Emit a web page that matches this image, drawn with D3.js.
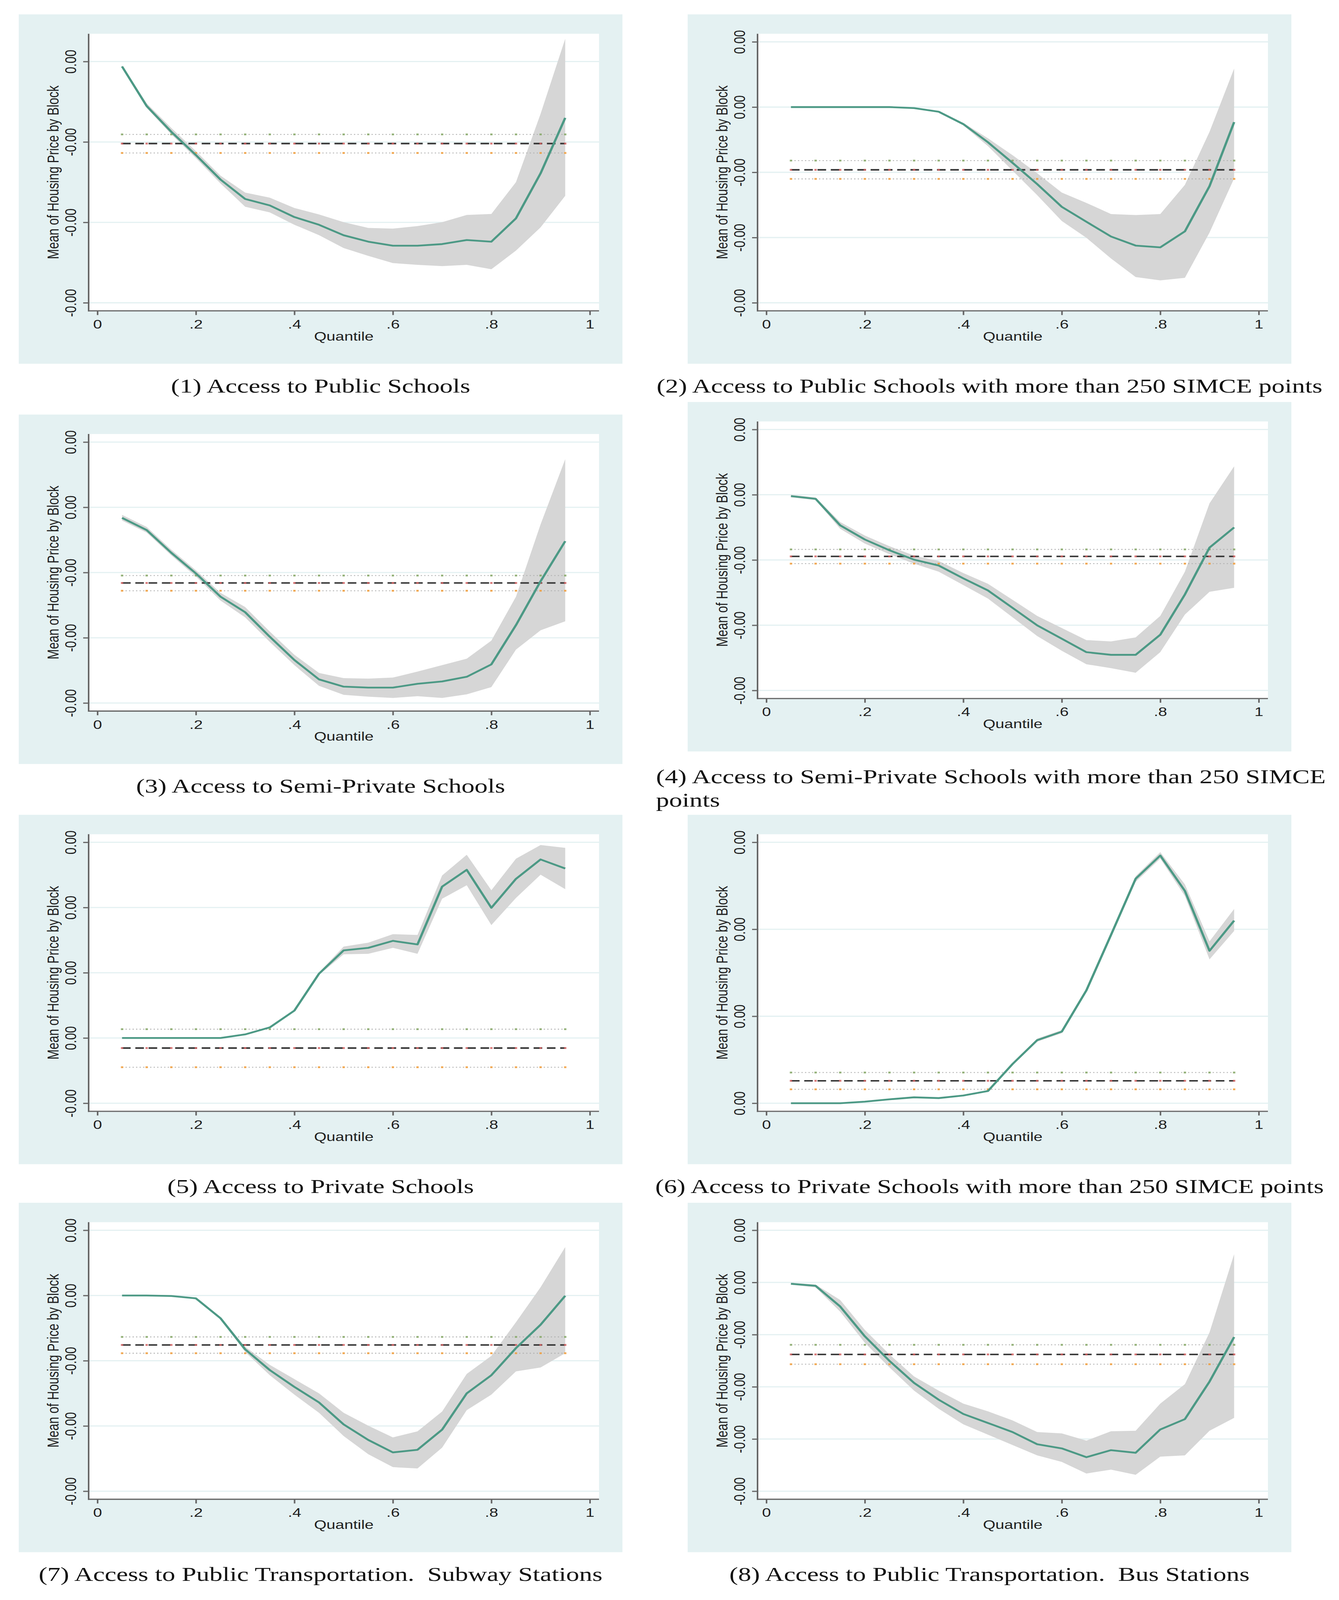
<!DOCTYPE html>
<html>
<head>
<meta charset="utf-8">
<script src="https://cdn.jsdelivr.net/npm/d3@7"></script>
<style>
  html, body { margin: 0; padding: 0; background: #ffffff; overflow: hidden; }
  svg text { white-space: pre; }
</style>
</head>
<body>
<div id="chart"></div>
<script>
// quantiles on the x axis (same for all eight panels)
var quantiles = [0.05, 0.10, 0.15, 0.20, 0.25, 0.30, 0.35, 0.40, 0.45, 0.50,
                 0.55, 0.60, 0.65, 0.70, 0.75, 0.80, 0.85, 0.90, 0.95];
var xTicks = [0, 0.2, 0.4, 0.6, 0.8, 1];
var xTickLabels = ["0", ".2", ".4", ".6", ".8", "1"];

// values are in thousandths (labels on the original are all "0.00" / "-0.00")
// ref = [mean, upper, lower] of the horizontal reference lines

// (1) public schools
var p1Est = [-0.061, -0.553, -0.874, -1.163, -1.468, -1.709, -1.789, -1.934, -2.03, -2.16, -2.24, -2.29, -2.29, -2.27, -2.22, -2.24, -1.95, -1.39, -0.70];
var p1Hi = [-0.045, -0.520, -0.826, -1.115, -1.420, -1.629, -1.693, -1.821, -1.902, -1.998, -2.069, -2.078, -2.046, -1.998, -1.908, -1.895, -1.500, -0.649, 0.283];
var p1Lo = [-0.077, -0.578, -0.906, -1.201, -1.516, -1.805, -1.876, -2.030, -2.159, -2.319, -2.416, -2.506, -2.528, -2.544, -2.528, -2.583, -2.351, -2.062, -1.670];
var p1Ref = [-1.02, -0.906, -1.137];
var p1Ticks = [0, -1, -2, -3];
var p1TickLabels = ["0.00", "-0.00", "-0.00", "-0.00"];
var p1Domain = [-3, 0.245];

// (2) public schools > 250 SIMCE
var p2Est = [0, 0, 0, 0, 0, -0.016, -0.071, -0.261, -0.539, -0.855, -1.180, -1.529, -1.758, -1.984, -2.123, -2.150, -1.905, -1.212, -0.230];
var p2Hi = [0.008, 0.008, 0.008, 0.008, 0.008, -0.008, -0.063, -0.242, -0.479, -0.737, -1.014, -1.311, -1.469, -1.640, -1.655, -1.640, -1.192, -0.380, 0.590];
var p2Lo = [-0.008, -0.008, -0.008, -0.008, -0.008, -0.024, -0.079, -0.281, -0.598, -0.974, -1.350, -1.747, -2.004, -2.321, -2.606, -2.657, -2.618, -1.925, -1.093];
var p2Ref = [-0.962, -0.820, -1.101];
var p2Ticks = [1, 0, -1, -2, -3];
var p2TickLabels = ["0.00", "0.00", "-0.00", "-0.00", "-0.00"];
var p2Domain = [-3, 1];

// (3) semi-private schools
var p3Est = [-0.162, -0.349, -0.697, -1.014, -1.370, -1.608, -1.984, -2.341, -2.638, -2.749, -2.764, -2.764, -2.705, -2.669, -2.598, -2.408, -1.806, -1.133, -0.519];
var p3Hi = [-0.115, -0.301, -0.650, -0.966, -1.311, -1.529, -1.905, -2.261, -2.539, -2.618, -2.626, -2.610, -2.519, -2.420, -2.321, -2.044, -1.370, -0.261, 0.737];
var p3Lo = [-0.202, -0.388, -0.737, -1.061, -1.430, -1.687, -2.063, -2.420, -2.737, -2.875, -2.903, -2.923, -2.895, -2.923, -2.867, -2.756, -2.182, -1.885, -1.747];
var p3Ref = [-1.160, -1.046, -1.279];
var p3Ticks = [1, 0, -1, -2, -3];
var p3TickLabels = ["0.00", "0.00", "-0.00", "-0.00", "-0.00"];
var p3Domain = [-3, 1];

// (4) semi-private schools > 250 SIMCE
var p4Est = [-0.021, -0.062, -0.469, -0.686, -0.851, -0.995, -1.085, -1.282, -1.467, -1.734, -2.002, -2.207, -2.413, -2.454, -2.454, -2.146, -1.529, -0.810, -0.501];
var p4Hi = [0, -0.041, -0.419, -0.625, -0.789, -0.933, -1.015, -1.200, -1.365, -1.611, -1.858, -2.043, -2.228, -2.248, -2.187, -1.858, -1.180, -0.132, 0.436];
var p4Lo = [-0.041, -0.082, -0.522, -0.748, -0.912, -1.056, -1.180, -1.385, -1.591, -1.878, -2.166, -2.392, -2.598, -2.659, -2.729, -2.413, -1.837, -1.488, -1.426];
var p4Ref = [-0.945, -0.838, -1.056];
var p4Ticks = [1, 0, -1, -2, -3];
var p4TickLabels = ["0.00", "0.00", "-0.00", "-0.00", "-0.00"];
var p4Domain = [-3, 1];

// (5) private schools
var p5Est = [0, 0, 0, 0, 0, 0.055, 0.162, 0.420, 0.986, 1.343, 1.382, 1.489, 1.434, 2.321, 2.578, 1.996, 2.440, 2.737, 2.598];
var p5Hi = [0.004, 0.004, 0.004, 0.004, 0.004, 0.067, 0.174, 0.432, 1.006, 1.402, 1.461, 1.592, 1.580, 2.491, 2.808, 2.265, 2.749, 2.958, 2.915];
var p5Lo = [-0.004, -0.004, -0.004, -0.004, -0.004, 0.044, 0.150, 0.404, 0.966, 1.283, 1.291, 1.382, 1.291, 2.135, 2.341, 1.731, 2.147, 2.503, 2.281];
var p5Ref = [-0.154, 0.135, -0.448];
var p5Ticks = [3, 2, 1, 0, -1];
var p5TickLabels = ["0.00", "0.00", "0.00", "0.00", "-0.00"];
var p5Domain = [-1, 3];

// (6) private schools > 250 SIMCE
var p6Est = [0, 0, 0, 0.018, 0.045, 0.068, 0.059, 0.089, 0.140, 0.451, 0.725, 0.823, 1.298, 1.936, 2.581, 2.848, 2.441, 1.752, 2.100];
var p6Hi = [0.006, 0.006, 0.006, 0.024, 0.050, 0.074, 0.065, 0.095, 0.149, 0.466, 0.743, 0.841, 1.313, 1.957, 2.611, 2.887, 2.516, 1.862, 2.233];
var p6Lo = [-0.006, -0.006, -0.006, 0.012, 0.039, 0.062, 0.053, 0.083, 0.131, 0.437, 0.707, 0.805, 1.280, 1.916, 2.545, 2.813, 2.382, 1.654, 1.981];
var p6Ref = [0.258, 0.353, 0.160];
var p6Ticks = [3, 2, 1, 0];
var p6TickLabels = ["0.00", "0.00", "0.00", "0.00"];
var p6Domain = [0, 3];

// (7) subway stations
var p7Est = [0, 0, -0.008, -0.044, -0.349, -0.825, -1.143, -1.401, -1.639, -1.976, -2.214, -2.405, -2.365, -2.056, -1.500, -1.222, -0.806, -0.448, -0.004];
var p7Hi = [0.008, 0.008, 0, -0.032, -0.329, -0.786, -1.063, -1.282, -1.500, -1.798, -1.996, -2.175, -2.083, -1.778, -1.202, -0.925, -0.409, 0.127, 0.742];
var p7Lo = [-0.008, -0.008, -0.016, -0.056, -0.369, -0.865, -1.222, -1.520, -1.798, -2.155, -2.433, -2.631, -2.651, -2.333, -1.758, -1.520, -1.163, -1.103, -0.885];
var p7Ref = [-0.758, -0.635, -0.885];
var p7Ticks = [1, 0, -1, -2, -3];
var p7TickLabels = ["0.00", "0.00", "-0.00", "-0.00", "-0.00"];
var p7Domain = [-3, 1];

// (8) bus stations
var p8Est = [-0.025, -0.064, -0.461, -1.032, -1.503, -1.925, -2.247, -2.520, -2.693, -2.867, -3.100, -3.180, -3.348, -3.214, -3.264, -2.817, -2.619, -1.900, -1.047];
var p8Hi = [-0.005, -0.040, -0.337, -0.908, -1.379, -1.801, -2.073, -2.321, -2.470, -2.644, -2.867, -2.892, -3.031, -2.852, -2.842, -2.321, -1.949, -0.957, 0.541];
var p8Lo = [-0.045, -0.094, -0.561, -1.156, -1.627, -2.073, -2.421, -2.718, -2.917, -3.115, -3.313, -3.438, -3.661, -3.586, -3.685, -3.338, -3.313, -2.842, -2.594];
var p8Ref = [-1.379, -1.195, -1.567];
var p8Ticks = [1, 0, -1, -2, -3, -4];
var p8TickLabels = ["0.00", "0.00", "-0.00", "-0.00", "-0.00", "-0.00"];
var p8Domain = [-4, 1];

var captions = [
    ["(1) Access to Public Schools"],
    ["(2) Access to Public Schools with more than 250 SIMCE points"],
    ["(3) Access to Semi-Private Schools"],
    ["(4) Access to Semi-Private Schools with more than 250 SIMCE", "points"],
    ["(5) Access to Private Schools"],
    ["(6) Access to Private Schools with more than 250 SIMCE points"],
    ["(7) Access to Public Transportation.  Subway Stations"],
    ["(8) Access to Public Transportation.  Bus Stations"]
];

function main() {

    // drawing coordinates follow the 3429 x 5353 reference; the svg is
    // stretched to whatever the window really is so nothing is cut off
    var totalW = 3429, totalH = 5353;

    // panel size and inner plot region (Stata-like layout)
    var pw = 1546, ph = 1169;
    var plot = { left: 179, right: 1486, top: 65, bottom: 992 };

    // panel origins
    var origins = [[48, 48], [1761, 48], [48, 1387], [1761, 1345],
                   [48, 2726], [1761, 2726], [48, 4024], [1761, 4024]];

    // fixed widths for the long captions (they are squeezed in the original)
    var captionWidths = [null, 1705, null, 1715, null, 1712, null, null];

    var panels = [
        { est: p1Est, hi: p1Hi, lo: p1Lo, ref: p1Ref, ticks: p1Ticks, labels: p1TickLabels, domain: p1Domain },
        { est: p2Est, hi: p2Hi, lo: p2Lo, ref: p2Ref, ticks: p2Ticks, labels: p2TickLabels, domain: p2Domain },
        { est: p3Est, hi: p3Hi, lo: p3Lo, ref: p3Ref, ticks: p3Ticks, labels: p3TickLabels, domain: p3Domain },
        { est: p4Est, hi: p4Hi, lo: p4Lo, ref: p4Ref, ticks: p4Ticks, labels: p4TickLabels, domain: p4Domain },
        { est: p5Est, hi: p5Hi, lo: p5Lo, ref: p5Ref, ticks: p5Ticks, labels: p5TickLabels, domain: p5Domain },
        { est: p6Est, hi: p6Hi, lo: p6Lo, ref: p6Ref, ticks: p6Ticks, labels: p6TickLabels, domain: p6Domain },
        { est: p7Est, hi: p7Hi, lo: p7Lo, ref: p7Ref, ticks: p7Ticks, labels: p7TickLabels, domain: p7Domain },
        { est: p8Est, hi: p8Hi, lo: p8Lo, ref: p8Ref, ticks: p8Ticks, labels: p8TickLabels, domain: p8Domain }
    ];

    var svg = d3.select("#chart")
        .append("svg")
        .attr("width", window.innerWidth || totalW)
        .attr("height", window.innerHeight || totalH)
        .attr("viewBox", "0 0 " + totalW + " " + totalH)
        .attr("preserveAspectRatio", "none")
        .style("display", "block");

    svg.append("rect").attr("width", totalW).attr("height", totalH).attr("fill", "#ffffff");

    var sans = "'Liberation Sans', Arial, Helvetica, sans-serif";
    var serif = "'Liberation Serif', 'Times New Roman', serif";

    var x = d3.scaleLinear().domain([0, 1]).range([201.5, 1462.5]);

    panels.forEach(function (p, i) {
        var g = svg.append("g")
            .attr("transform", "translate(" + origins[i][0] + "," + origins[i][1] + ")");

        var y = d3.scaleLinear().domain(p.domain).range([965, 92]);

        // graph region and plot region
        g.append("rect").attr("width", pw).attr("height", ph).attr("fill", "#e4f1f2");
        g.append("rect")
            .attr("x", plot.left).attr("y", plot.top)
            .attr("width", plot.right - plot.left).attr("height", plot.bottom - plot.top)
            .attr("fill", "#ffffff");

        // grid lines
        g.append("g").selectAll("line")
            .data(p.ticks)
            .enter()
            .append("line")
            .attr("x1", plot.left).attr("x2", plot.right)
            .attr("y1", function (d) { return y(d); })
            .attr("y2", function (d) { return y(d); })
            .attr("stroke", "#e4f1f2")
            .attr("stroke-width", 4);

        var rows = quantiles.map(function (q, k) {
            return { q: q, est: p.est[k], hi: p.hi[k], lo: p.lo[k] };
        });

        // confidence band
        g.append("path")
            .datum(rows)
            .attr("fill", "#d6d6d6")
            .attr("d", d3.area()
                .x(function (d) { return x(d.q); })
                .y0(function (d) { return y(d.lo); })
                .y1(function (d) { return y(d.hi); }));

        // reference lines: upper and lower dotted, mean dashed
        var refs = [
            { v: p.ref[1], dash: "3,6", color: "#b0b0b0", width: 3, mark: "#86a866" },
            { v: p.ref[2], dash: "3,6", color: "#b0b0b0", width: 3, mark: "#f29e3a" },
            { v: p.ref[0], dash: "22,12", color: "#333333", width: 5, mark: "#d05f5f" }
        ];
        refs.forEach(function (r) {
            g.append("line")
                .attr("x1", x(quantiles[0])).attr("x2", x(quantiles[quantiles.length - 1]))
                .attr("y1", y(r.v)).attr("y2", y(r.v))
                .attr("stroke", r.color)
                .attr("stroke-width", r.width)
                .attr("stroke-dasharray", r.dash);
            g.append("g").selectAll("rect")
                .data(quantiles)
                .enter()
                .append("rect")
                .attr("x", function (d) { return x(d) - 3; })
                .attr("y", y(r.v) - 3)
                .attr("width", 6)
                .attr("height", 6)
                .attr("fill", r.mark)
                .attr("opacity", 0.85);
        });

        // estimate line
        g.append("path")
            .datum(rows)
            .attr("fill", "none")
            .attr("stroke", "#4c9985")
            .attr("stroke-width", 6)
            .attr("stroke-linejoin", "round")
            .attr("d", d3.line()
                .x(function (d) { return x(d.q); })
                .y(function (d) { return y(d.est); }));

        // y axis
        var yAxis = g.append("g")
            .attr("transform", "translate(" + plot.left + ",0)")
            .call(d3.axisLeft(y)
                .tickValues(p.ticks)
                .tickFormat(function (d, k) { return p.labels[k]; })
                .tickSize(14)
                .tickSizeOuter(0));
        yAxis.select(".domain").remove();
        yAxis.selectAll("line").attr("stroke", "#666666").attr("stroke-width", 4);
        yAxis.selectAll("text")
            .attr("transform", "rotate(-90)")
            .attr("x", 0)
            .attr("y", -32)
            .attr("dy", null)
            .attr("text-anchor", "middle")
            .attr("fill", "#1e1e1e")
            .style("font-family", sans)
            .style("font-size", "41px");

        // x axis
        var xAxis = g.append("g")
            .attr("transform", "translate(0," + plot.bottom + ")")
            .call(d3.axisBottom(x)
                .tickValues(xTicks)
                .tickFormat(function (d, k) { return xTickLabels[k]; })
                .tickSize(14)
                .tickSizeOuter(0));
        xAxis.select(".domain").remove();
        xAxis.selectAll("line").attr("stroke", "#666666").attr("stroke-width", 4);
        xAxis.selectAll("text")
            .attr("y", 59)
            .attr("dy", null)
            .attr("fill", "#1e1e1e")
            .style("font-family", sans)
            .style("font-size", "41px");

        // axis lines
        g.append("line")
            .attr("x1", plot.left).attr("x2", plot.left)
            .attr("y1", plot.top).attr("y2", plot.bottom + 2)
            .attr("stroke", "#666666").attr("stroke-width", 4);
        g.append("line")
            .attr("x1", plot.left - 2).attr("x2", plot.right)
            .attr("y1", plot.bottom).attr("y2", plot.bottom)
            .attr("stroke", "#666666").attr("stroke-width", 4);

        // axis titles
        g.append("text")
            .attr("transform", "translate(102," + ((plot.top + plot.bottom) / 2) + ") rotate(-90)")
            .attr("text-anchor", "middle")
            .attr("fill", "#1e1e1e")
            .style("font-family", sans)
            .style("font-size", "41px")
            .text("Mean of Housing Price by Block");

        g.append("text")
            .attr("x", (plot.left + plot.right) / 2)
            .attr("y", 1091)
            .attr("text-anchor", "middle")
            .attr("fill", "#1e1e1e")
            .style("font-family", sans)
            .style("font-size", "41px")
            .text("Quantile");

        // caption
        var cap = captions[i];
        if (cap.length === 1) {
            var t = g.append("text")
                .attr("x", pw / 2)
                .attr("y", ph + 96)
                .attr("text-anchor", "middle")
                .attr("fill", "#111")
                .style("font-family", serif)
                .style("font-size", "67px")
                .text(cap[0]);
            if (captionWidths[i]) {
                t.attr("textLength", captionWidths[i]).attr("lengthAdjust", "spacingAndGlyphs");
            }
        } else {
            g.append("text")
                .attr("x", 1680 - origins[i][0])
                .attr("y", ph + 106)
                .attr("textLength", captionWidths[i])
                .attr("lengthAdjust", "spacing")
                .attr("fill", "#111")
                .style("font-family", serif)
                .style("font-size", "67px")
                .text(cap[0]);
            g.append("text")
                .attr("x", 1680 - origins[i][0])
                .attr("y", ph + 185)
                .attr("fill", "#111")
                .style("font-family", serif)
                .style("font-size", "67px")
                .text(cap[1]);
        }
    });
}

window.addEventListener('load', main);
</script>
</body>
</html>
